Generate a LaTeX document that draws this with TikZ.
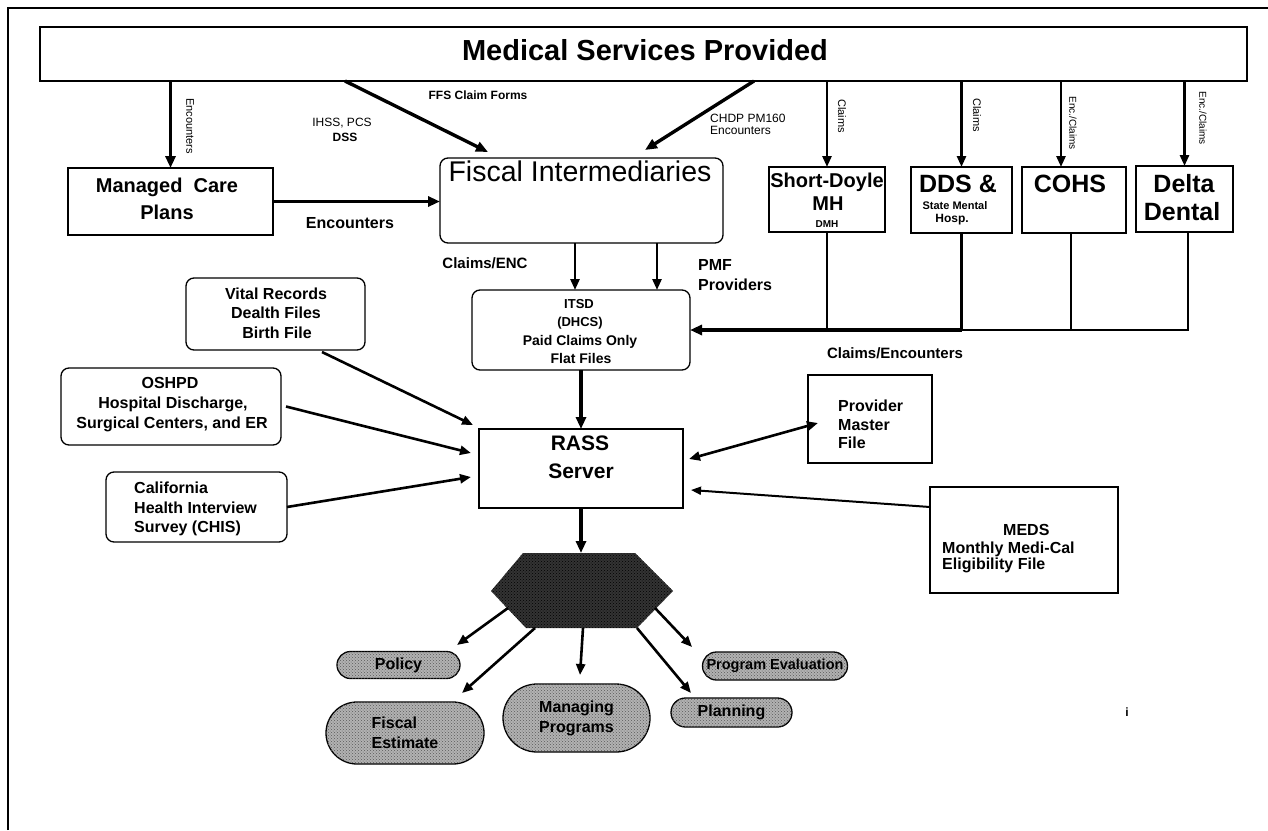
\documentclass[tikz,border=0pt]{standalone}
\usepackage{fontspec}
\setmainfont{Liberation Sans}
\usetikzlibrary{arrows.meta,shapes.misc,patterns,calc}
\newcommand{\setfs}[1]{\fontsize{#1}{#1}\selectfont}
\begin{document}
\begin{tikzpicture}[x=1pt,y=-1pt,
  box/.style={draw,line width=1.3pt,inner sep=0pt,outer sep=0pt},
  rbox/.style={box,rounded corners=8pt},
  tb/.style={inner sep=0pt,anchor=base,font=\bfseries\setfs{#1}},
  tr/.style={inner sep=0pt,anchor=base,font=\setfs{#1}},
  vl/.style={inner sep=0pt,rotate=-90,font=\setfs{#1}},
  arr/.style={line width=2.6pt,-{Triangle[length=11pt,width=9pt]}},
  arrT/.style={line width=3.4pt,-{Triangle[length=12pt,width=10pt]}},
  oval/.style={draw,line width=1.3pt,rounded rectangle,inner sep=0pt,
    fill=black!30,postaction={pattern=crosshatch dots,pattern color=black!65},
    align=center,font=\bfseries\fontsize{16}{20}\selectfont},
]
\useasboundingbox (0,0) rectangle (1268,830);
\fill[white] (0,0) rectangle (1268,830);
% outer frame
\draw[line width=1.2pt] (8,830) -- (8,8) -- (1268,8);

% title
\node[box,minimum width=1207pt,minimum height=54pt] (title) at (643.5,54) {};
\node[tb=29] (ttl) at (645,60) {Medical Services Provided};

% managed care
\node[box,minimum width=205pt,minimum height=67pt] (mcp) at (170.5,201.5) {};
\node[tb=20] (mcp1) at (167,192) {Managed\ \ Care};
\node[tb=20] (mcp2) at (167,219) {Plans};

% fiscal intermediaries
\node[rbox,minimum width=283pt,minimum height=85pt] (fi) at (581.5,200.5) {};
\node[tr=28.5] (fit) at (580,181) {Fiscal Intermediaries};

% right boxes
\node[box,minimum width=116pt,minimum height=65pt] (sd) at (827,199.5) {};
\node[tb=20] (sd1) at (827,187) {Short-Doyle};
\node[tb=20] (sd2) at (828,210) {MH};
\node[tb=10] (sd3) at (827,227.5) {DMH};

\node[box,minimum width=101pt,minimum height=66pt] (dds) at (961.5,200) {};
\node[tb=25] (dds1) at (958,192) {DDS \&};
\node[tb=11] (dds2) at (955,209) {State Mental};
\node[tb=12] (dds3) at (952,222) {Hosp.};

\node[box,minimum width=104pt,minimum height=66pt] (cohs) at (1074,200) {};
\node[tb=25] (cohs1) at (1070,192) {COHS};

\node[box,minimum width=97pt,minimum height=66pt] (delta) at (1184.5,199) {};
\node[tb=25] (del1) at (1184,192) {Delta};
\node[tb=25] (del2) at (1182,220) {Dental};

% ITSD
\node[rbox,minimum width=218pt,minimum height=80pt] (itsd) at (581,330) {};
\node[tb=13] (it1) at (579,308) {ITSD};
\node[tb=13] (it2) at (580,326) {(DHCS)};
\node[tb=14] (it3) at (580,345) {Paid\ Claims Only};
\node[tb=14] (it4) at (581,363) {Flat\ Files};

% RASS
\node[box,minimum width=204pt,minimum height=79pt] (rass) at (581,468.5) {};
\node[tb=21] (ra1) at (580,450) {RASS};
\node[tb=21] (ra2) at (581,478) {Server};

% sources
\node[rbox,minimum width=179pt,minimum height=72pt] (vital) at (275.5,314) {};
\node[tb=16] (vi1) at (276,299) {Vital Records};
\node[tb=16] (vi2) at (276,318) {Dealth Files};
\node[tb=16] (vi3) at (277,338) {Birth File};

\node[rbox,minimum width=220pt,minimum height=77pt] (oshpd) at (171,406.5) {};
\node[tb=16] (os1) at (170,388) {OSHPD};
\node[tb=16] (os2) at (173,408) {Hospital Discharge,};
\node[tb=16] (os3) at (172,428) {Surgical Centers, and ER};

\node[rbox,minimum width=181pt,minimum height=70pt] (cal) at (196.5,507) {};
\node[tb=16,anchor=base west] (ca1) at (134,493) {California};
\node[tb=16,anchor=base west] (ca2) at (134,513) {Health Interview};
\node[tb=16,anchor=base west] (ca3) at (134,532) {Survey (CHIS)};

\node[box,minimum width=124pt,minimum height=88pt] (pmf) at (870,419) {};
\node[tb=16,anchor=base west] (pm1) at (838,411) {Provider};
\node[tb=16,anchor=base west] (pm2) at (838,430) {Master};
\node[tb=16,anchor=base west] (pm3) at (838,448) {File};

\node[box,minimum width=188pt,minimum height=106pt] (meds) at (1024,540) {};
\node[tb=16,anchor=base west] (me1) at (1003,535) {MEDS};
\node[tb=16,anchor=base west] (me2) at (942,553) {Monthly Medi-Cal};
\node[tb=16,anchor=base west] (me3) at (942,569) {Eligibility File};

% labels
\node[vl=11] (lenc) at (190,126) {Encounters};
\node[vl=11] (lcl1) at (842,116) {Claims};
\node[vl=11] (lcl2) at (977,115) {Claims};
\node[vl=10] (lec1) at (1073,123) {Enc./Claims};
\node[vl=10] (lec2) at (1203,118) {Enc./Claims};
\node[tb=12] (lffs) at (478,99) {FFS Claim Forms};
\node[tr=12] (lihss) at (342,126) {IHSS, PCS};
\node[tb=12] (ldss) at (345,141) {DSS};
\node[tr=12,anchor=base west] (lchdp) at (710,122) {CHDP PM160};
\node[tr=12,anchor=base west] (lchdp2) at (710,134) {Encounters};
\node[tb=16] (lenc2) at (350,228) {Encounters};
\node[tb=15] (lcenc) at (485,268) {Claims/ENC};
\node[tb=16,anchor=base west] (lpmf) at (698,270) {PMF};
\node[tb=16,anchor=base west] (lprov) at (698,290) {Providers};
\node[tb=15] (lce) at (895,358) {Claims/Encounters};
\node[tb=12] (li) at (1127,716) {i};

% arrows from title
\draw[arrT] (title.south -| mcp.north) -- (mcp.north);
\coordinate (ffsS) at ($(title.south west)+(305,0)$);
\coordinate (ffsE) at ($(fi.north west)+(48,-6)$);
\draw[arrT] (ffsS) -- (ffsE);
\coordinate (chS) at ($(title.south west)+(714,0)$);
\coordinate (chE) at ($(fi.north west)+(205,-8)$);
\draw[arrT] (chS) -- (chE);
\draw[arr] (title.south -| sd.north) -- (sd.north);
\draw[arr] (title.south -| dds.north) -- (dds.north);
\coordinate (cohsIn) at ($(cohs.north)+(-13,0)$);
\draw[arr] (title.south -| cohsIn) -- (cohsIn);
\draw[arr] (title.south -| delta.north) -- (delta.north);

% encounters to FI
\draw[arrT] (mcp.east) -- (mcp.east -| fi.west);

% FI to ITSD
\coordinate (a1) at ($(fi.south)+(-6.5,0)$);
\coordinate (a2) at ($(fi.south)+(75.5,0)$);
\draw[arr] (a1) -- (a1 |- itsd.north);
\draw[arr] (a2) -- (a2 |- itsd.north);

% feedback claims/encounters
\coordinate (dn3) at ($(cohs.south)+(-3,0)$);
\coordinate (dn4) at ($(delta.south)+(3.5,0)$);
\draw[line width=2.6pt] (sd.south) -- (sd.south |- itsd.east);
\draw[line width=2.6pt] (dds.south) -- (dds.south |- itsd.east);
\draw[line width=2.6pt] (dn3) -- (dn3 |- itsd.east);
\draw[line width=2.6pt,line join=miter] (dn4) -- (dn4 |- itsd.east) -- (dds.south |- itsd.east);
\draw[line width=3.6pt,-{Triangle[length=12pt,width=10pt]}] (dds.south |- itsd.east) -- (itsd.east);

% ITSD to RASS
\draw[arrT] (itsd.south) -- (rass.north);

% sources to RASS
\coordinate (v1) at ($(vital.south east)+(-43,2)$);
\coordinate (v2) at ($(rass.north west)+(-6,-4)$);
\draw[arr] (v1) -- (v2);
\coordinate (o1) at ($(oshpd.east)+(5,0)$);
\coordinate (o2) at ($(rass.west)+(-8,-15.5)$);
\draw[arr] (o1) -- (o2);
\coordinate (c2) at ($(rass.west)+(-8,8.5)$);
\draw[arr] (cal.east) -- (c2);
\coordinate (p1) at ($(rass.east)+(6,-9.5)$);
\coordinate (p2) at ($(pmf.west)+(10,4)$);
\draw[line width=2.6pt,{Triangle[length=11pt,width=9pt]}-{Triangle[length=11pt,width=9pt]}] (p1) -- (p2);
\coordinate (m1) at ($(meds.north west)+(0,20)$);
\coordinate (m2) at ($(rass.east)+(8,21.5)$);
\draw[line width=2pt,-{Triangle[length=10pt,width=8pt]}] (m1) -- (m2);

% hexagon
\coordinate (hL) at (491,591);
\coordinate (hTL) at (523,553);
\coordinate (hTR) at (635,553);
\coordinate (hR) at (673,591);
\coordinate (hBR) at (637,628);
\coordinate (hBL) at (526,628);
\fill[black!80] (hL) -- (hTL) -- (hTR) -- (hR) -- (hBR) -- (hBL) -- cycle;
\fill[pattern=crosshatch dots,pattern color=black] (hL) -- (hTL) -- (hTR) -- (hR) -- (hBR) -- (hBL) -- cycle;
\coordinate (hTop) at (rass.south |- hTL);
\draw[arrT] (rass.south) -- (hTop);

% outcome ovals
\node[oval,minimum width=123pt,minimum height=27pt] (pol) at (398.5,665) {Policy};
\node[oval,minimum width=158pt,minimum height=62pt,align=left] (fe) at (405,733) {Fiscal\\Estimate};
\node[oval,minimum width=147pt,minimum height=68pt] (mp) at (576.5,718) {Managing\\Programs};
\node[oval,minimum width=121pt,minimum height=29pt] (pl) at (731.5,712.5) {Planning};
\node[oval,minimum width=145pt,minimum height=28pt,font=\bfseries\setfs{14.5}] (pe) at (775,666) {Program Evaluation};

\coordinate (s1) at (508,608);
\coordinate (s2) at (535,628);
\coordinate (s3) at (583,628);
\coordinate (s4) at (637,628);
\coordinate (s5) at (655,608);
\draw[arr] (s1) -- ($(pol.center)+(58.5,-20)$);
\draw[arr] (s2) -- ($(fe.center)+(57,-40)$);
\draw[arr] (s3) -- ($(mp.center)+(3.5,-43)$);
\draw[arr] (s4) -- ($(pl.center)+(-40.5,-19.5)$);
\draw[arr] (s5) -- ($(pe.center)+(-83,-19)$);
\end{tikzpicture}
\end{document}
